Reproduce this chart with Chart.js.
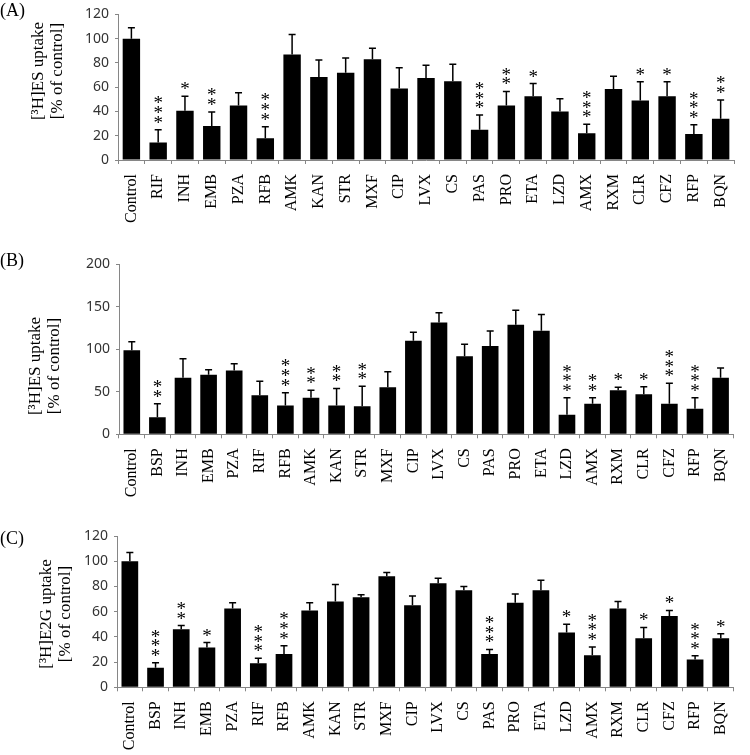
<!DOCTYPE html>
<html>
<head>
<meta charset="utf-8">
<script src="https://cdn.jsdelivr.net/npm/chart.js@4.4.0/dist/chart.umd.min.js"></script>
<style>
  body { margin: 0; background: #fff; }
  #wrap { position: relative; width: 750px; height: 755px; overflow: hidden; }
  canvas { position: absolute; left: 0; }
  .lab { position: absolute; left: 0; font-family: 'Liberation Serif', serif; font-size: 18px; color: #000; }
</style>
</head>
<body>
<div id="wrap">
  <canvas id="chartA" width="750" height="250" style="top:0"></canvas>
  <canvas id="chartB" width="750" height="255" style="top:250px"></canvas>
  <canvas id="chartC" width="750" height="255" style="top:500px"></canvas>
  <div class="lab" style="top:0px">(A)</div>
  <div class="lab" style="top:250px">(B)</div>
  <div class="lab" style="top:528px">(C)</div>
</div>
<script>
// panel A - [3H]ES uptake
var catsA = ['Control','RIF','INH','EMB','PZA','RFB','AMK','KAN','STR','MXF','CIP','LVX','CS','PAS','PRO','ETA','LZD','AMX','RXM','CLR','CFZ','RFP','BQN'];
var valsA = [100, 14.5, 40.5, 28, 45, 18, 87, 68.5, 72, 83, 59, 67.5, 65, 25, 45, 52.5, 40, 22, 58.5, 49, 52.5, 21.5, 34];
var errA  = [9, 10.5, 12, 11.5, 10.5, 9.5, 16.5, 14, 12, 9, 17, 10.5, 14, 12, 11.5, 10.5, 10.5, 7.5, 10.5, 15.5, 12, 7.5, 15.5];
var starsA = ['','***','*','**','','***','','','','','','','','***','**','*','','***','','*','*','***','**'];

// panel B - [3H]ES uptake
var catsB = ['Control','BSP','INH','EMB','PZA','RIF','RFB','AMK','KAN','STR','MXF','CIP','LVX','CS','PAS','PRO','ETA','LZD','AMX','RXM','CLR','CFZ','RFP','BQN'];
var valsB = [99, 20, 66.5, 70, 75, 46, 34, 43, 34, 33, 55.5, 110, 131.5, 92, 104, 129, 122, 23, 36, 52, 47, 36, 30, 66.5];
var errB  = [10, 16, 22.5, 6, 8, 16.5, 15, 9, 20, 23.5, 18, 10, 11.5, 14, 17.5, 17, 19, 20, 7, 3.5, 9, 24, 13, 11.5];
var starsB = ['','**','','','','','***','**','**','**','','','','','','','','***','**','*','*','***','***',''];

// panel C - [3H]E2G uptake
var catsC = ['Control','BSP','INH','EMB','PZA','RIF','RFB','AMK','KAN','STR','MXF','CIP','LVX','CS','PAS','PRO','ETA','LZD','AMX','RXM','CLR','CFZ','RFP','BQN'];
var valsC = [100, 15.5, 46, 31.5, 62.5, 19, 26.5, 61, 68, 71.5, 88, 65, 82.5, 77, 26.5, 67, 77, 43.5, 25.5, 62.5, 39, 56.5, 22, 39];
var errC  = [7, 4, 3, 4, 4.5, 4, 6.5, 6, 13.5, 2, 3, 7.5, 4, 3, 3.5, 7, 8, 6.5, 6.5, 5.5, 8.5, 4.5, 3, 3.5];
var starsC = ['','***','**','*','','***','***','','','','','','','','***','','','*','***','','*','*','***','*'];

var axisGray = '#868686';

// upper error bars, significance stars and the y title
var extras = {
    id: 'extras',
    afterDatasetsDraw: function(chart, args, opts) {
        var ctx = chart.ctx;
        var ds = chart.data.datasets[0];
        var meta = chart.getDatasetMeta(0);
        var y = chart.scales.y;
        ctx.save();
        ctx.strokeStyle = '#000';
        ctx.lineWidth = 1.5;
        ctx.fillStyle = '#000';
        ctx.font = '19px "Liberation Serif"';
        ctx.textAlign = 'center';
        ctx.textBaseline = 'alphabetic';
        meta.data.forEach(function(bar, i) {
            var top = y.getPixelForValue(ds.data[i] + ds.errors[i]);
            ctx.beginPath();
            ctx.moveTo(bar.x, bar.y);
            ctx.lineTo(bar.x, top);
            ctx.moveTo(bar.x - 3.5, top);
            ctx.lineTo(bar.x + 3.5, top);
            ctx.stroke();
            var s = ds.stars[i];
            for (var k = 0; k < s.length; k++) {
                var cy = top - 10 - k * 9.6;
                ctx.fillText('*', bar.x, cy + 9);
            }
        });

        // two-line rotated axis title
        ctx.font = '17px "Liberation Serif"';
        ctx.textBaseline = 'middle';
        ctx.translate(opts.x, opts.y);
        ctx.rotate(-Math.PI / 2);
        opts.text.forEach(function(line, i) {
            ctx.fillText(line, 0, i * 18.7);
        });
        ctx.restore();
    }
};

function makeChart(id, cats, vals, errs, stars, cfg) {
    return new Chart(document.getElementById(id), {
        type: 'bar',
        data: {
            labels: cats,
            datasets: [{
                data: vals,
                errors: errs,
                stars: stars,
                backgroundColor: '#000',
                borderWidth: 0,
                barPercentage: 0.65,
                categoryPercentage: 1
            }]
        },
        options: {
            responsive: false,
            animation: false,
            layout: { padding: { top: cfg.top, right: cfg.right, left: 0, bottom: 0 } },
            plugins: {
                legend: { display: false },
                tooltip: { enabled: false },
                extras: { text: cfg.title, x: cfg.tx, y: cfg.ty }
            },
            scales: {
                x: {
                    grid: { drawOnChartArea: false, tickLength: 4, color: axisGray },
                    border: { color: axisGray },
                    ticks: {
                        autoSkip: false, maxRotation: 90, minRotation: 90,
                        color: '#000', padding: 10,
                        font: { family: 'Liberation Serif', size: 16 }
                    },
                    afterFit: function(s) { s.height = cfg.xh; }
                },
                y: {
                    min: 0, max: cfg.max,
                    ticks: { stepSize: cfg.step, color: '#333', padding: 6, font: { family: 'Noto Sans', size: 14 } },
                    grid: { drawOnChartArea: false, tickLength: 3, color: axisGray },
                    border: { color: axisGray },
                    afterFit: function(s) { s.width = cfg.yw; }
                }
            }
        },
        plugins: [extras]
    });
}

makeChart('chartA', catsA, valsA, errA, starsA,
    { top: 6, right: 7, xh: 90, yw: 118, max: 120, step: 20, tx: 39, ty: 71, title: ['[\u00B3H]ES uptake', '[% of control]'] });
makeChart('chartB', catsB, valsB, errB, starsB,
    { top: 6.7, right: 11, xh: 70.7, yw: 119, max: 200, step: 50, tx: 36, ty: 116, title: ['[\u00B3H]ES uptake', '[% of control]'] });
makeChart('chartC', catsC, valsC, errC, starsC,
    { top: 36, right: 1, xh: 67.7, yw: 117, max: 120, step: 20, tx: 47, ty: 114, title: ['[\u00B3H]E2G uptake', '[% of control]'] });
</script>
</body>
</html>
